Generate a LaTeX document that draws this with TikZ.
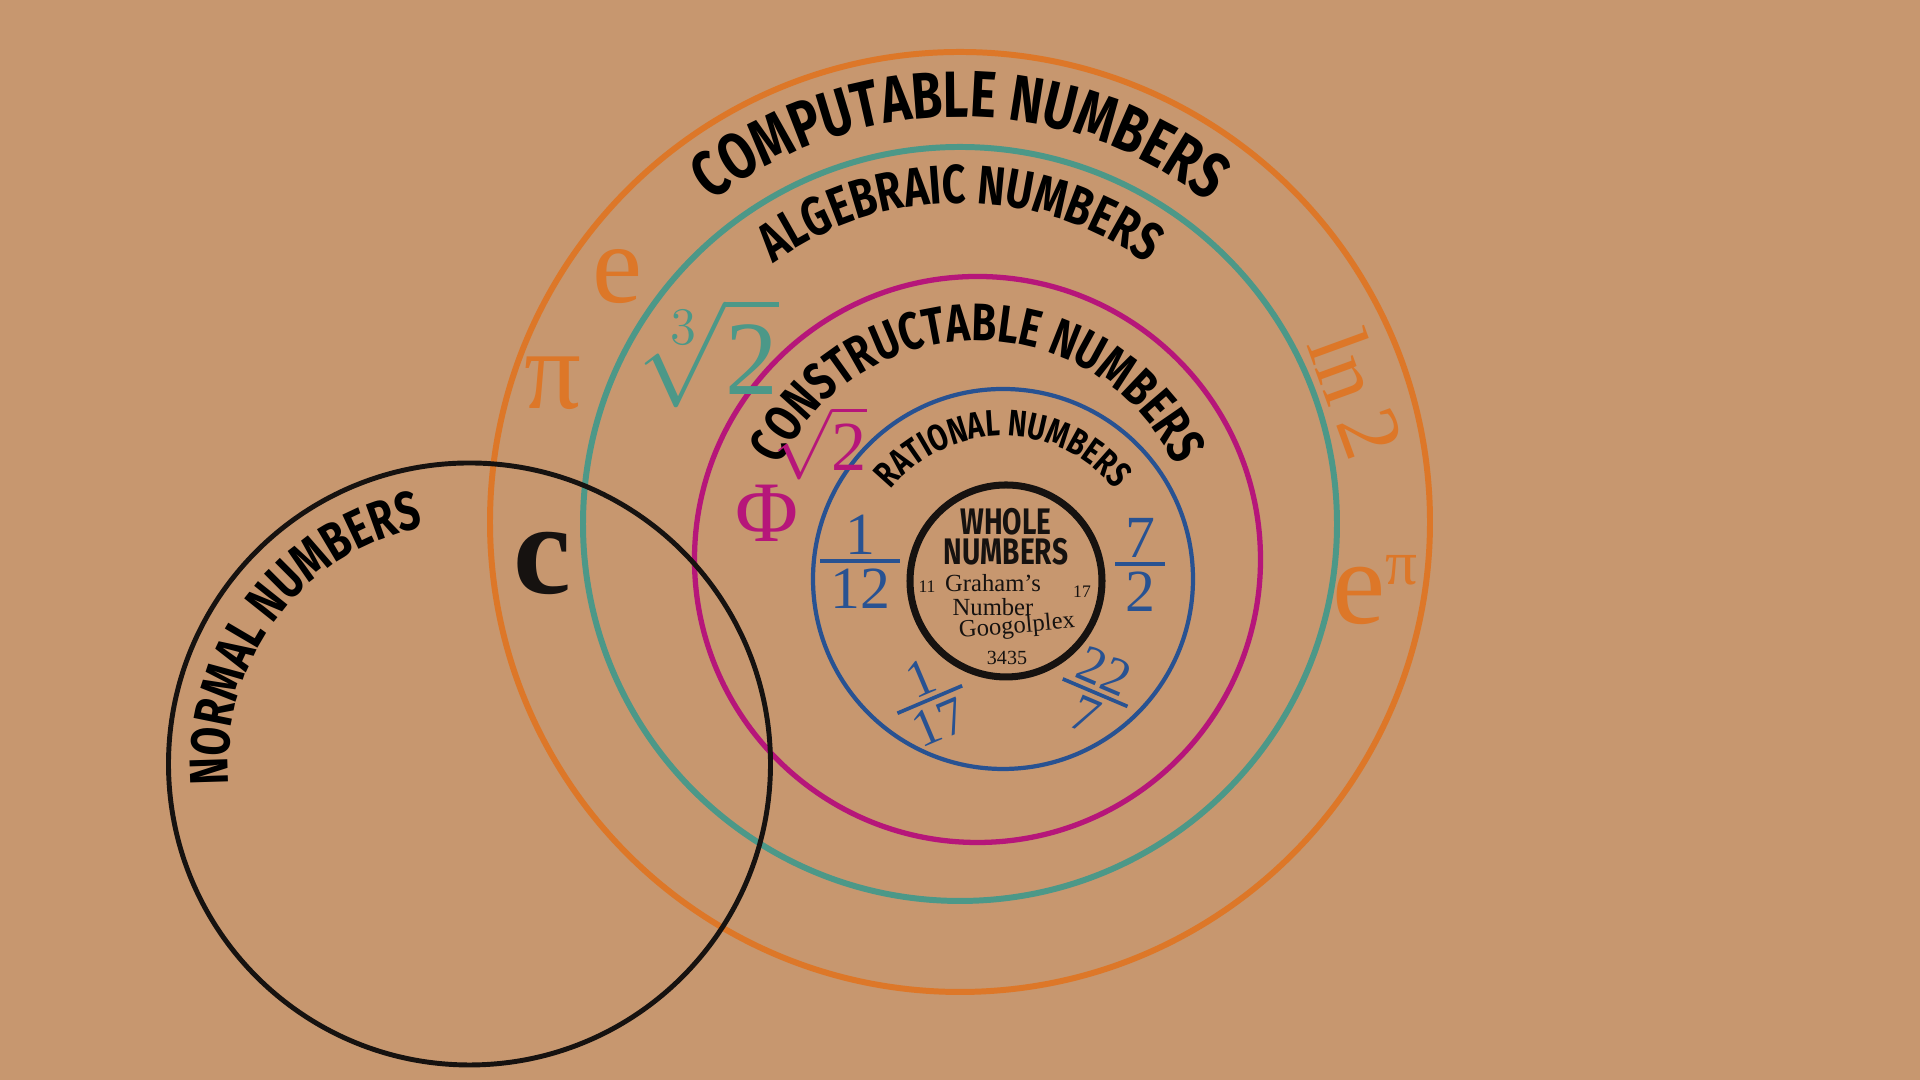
\RequirePackage{fix-cm}
\documentclass[tikz,border=0pt]{standalone}
\usepackage{amsmath}
\usepackage{fontspec}
\setmainfont{Liberation Serif}
\newfontfamily\handfont{Fira Sans Bold}[FakeStretch=0.76]
\usetikzlibrary{decorations.text}

\definecolor{kraft}{RGB}{199,151,111}
\definecolor{cmpC}{RGB}{221,119,40}
\definecolor{algC}{RGB}{76,152,136}
\definecolor{conC}{RGB}{182,22,122}
\definecolor{ratC}{RGB}{40,82,146}
\definecolor{inkC}{RGB}{22,18,16}

\newcommand\fs[1]{\fontsize{#1}{#1}\selectfont}
\newcommand\cmpfont{\handfont\fs{18.6}}
\newcommand\algfont{\handfont\fs{15.5}}
\newcommand\confont{\handfont\fs{15}}
\newcommand\ratfont{\handfont\fs{10.5}}
\newcommand\nrmfont{\handfont\fs{15.5}}
% fraction with a thick bar
\newcommand\ratfrac[2]{\vbox{\halign{\hfil\,##\,\hfil\cr #1\cr
  \noalign{\kern.08em\hrule height.07em\kern.1em}#2\cr}}}

\begin{document}
\begin{tikzpicture}[x=0.01cm, y=0.01cm,
    rlabel/.style={decorate, decoration={text along path, text align=center, text={#1}}},
    num/.style={inner sep=0pt, font=\fs{#1}},
    ratnum/.style={inner sep=0pt, text=ratC, font=\fs{#1}}]
    % paper
    \fill[kraft] (0,0) rectangle (1920,1080);

    % centres of the sets
    \coordinate (cmp) at (960,558);
    \coordinate (alg) at (960,556);
    \coordinate (con) at (977.5,520.5);
    \coordinate (rat) at (1003,501);
    \coordinate (whl) at (1006,499);
    \coordinate (nrm) at (469.5,316);

    % Draw the rings
    \foreach \c/\r/\col/\w in {cmp/470/cmpC/1.7pt, alg/377/algC/1.7pt, con/283/conC/1.5pt,
        rat/190/ratC/1.2pt, whl/96/inkC/2pt, nrm/301/inkC/1.4pt} {
        \draw[\col, line width=\w] (\c) circle[radius=\r];
    }

    % Names along the rings
    \path[rlabel={|\cmpfont|COMPUTABLE NUMBERS}] (cmp) ++(150:405) arc[start angle=150, end angle=30, radius=405];
    \path[rlabel={|\algfont|ALGEBRAIC NUMBERS}] (cmp) ++(150:319) arc[start angle=150, end angle=30, radius=319];
    \path[rlabel={|\confont|CONSTRUCTABLE NUMBERS}] (con) ++(170:219) arc[start angle=170, end angle=10, radius=219];
    \path[rlabel={|\ratfont|RATIONAL NUMBERS}] (rat) ++(160:143) arc[start angle=160, end angle=20, radius=143];
    \path[rlabel={|\nrmfont|NORMAL NUMBERS}] (nrm) ++(203:241) arc[start angle=203, end angle=83, radius=241];
    \node[inkC, align=center, inner sep=0pt, font=\handfont\fontsize{10.5}{8.5}\selectfont] (whlname) at (1006,543) {WHOLE\\NUMBERS};

    % computable
    \node[num=32, text=cmpC] (e) at (617,803) {e};
    \node[num=32, text=cmpC] (pi) at (553,697) {π};
    \node[num=25, text=cmpC, rotate=-70] (ln) at (1357,686) {ln\,2};
    \node[num=34, text=cmpC] (epi) at (1375,490) {e\raisebox{.33em}{\fs{18}π}};
    % algebraic
    \node[num=30, text=algC] (cbrt) at (710,727) {$\sqrt[3]{\text{2}}$};
    % constructable
    \node[num=20, text=conC] (sqrt) at (820,637) {$\sqrt{\text{2}}$};
    \node[num=24.5, text=conC] (phi) at (767,567) {Φ};
    % normal
    \node[num=37, text=inkC] (c) at (542,517) {\textbf{c}};

    % rationals
    \node[ratnum=17] (q1) at (860,518) {\ratfrac{1}{12}};
    \node[ratnum=17] (q2) at (1140,515) {\ratfrac{7}{2}};
    \node[ratnum=15, rotate=23] (q3) at (930,380) {\ratfrac{1}{17}};
    \node[ratnum=15, rotate=-23] (q4) at (1095,387) {\ratfrac{22}{7}};

    % whole
    \node[num=5, text=inkC] (w11) at (927,493) {11};
    \node[num=7, text=inkC] (graham) at (993,497) {Graham’s};
    \node[num=5, text=inkC] (w17) at (1082,488) {17};
    \node[num=7, text=inkC] (number) at (993,473) {Number};
    \node[num=7, text=inkC, rotate=5] (googol) at (1017,453) {Googolplex};
    \node[num=5.7, text=inkC] (w3435) at (1007,422) {3435};
\end{tikzpicture}
\end{document}
